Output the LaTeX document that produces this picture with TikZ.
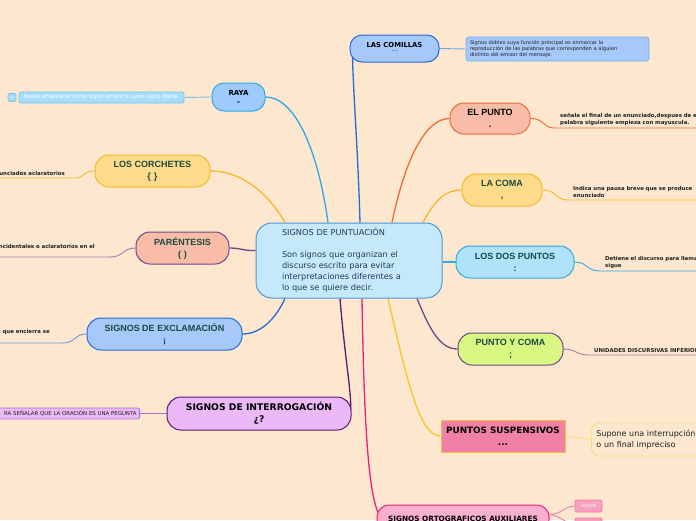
\documentclass[tikz,border=0pt]{standalone}
\usepackage{fontspec}
\setmainfont{DejaVu Sans}
\newfontfamily\arialfont{Liberation Sans}
\usetikzlibrary{calc}

\definecolor{bgpeach}{HTML}{FDE7CF}
\definecolor{cenfill}{HTML}{C5E9FB}
\definecolor{cenline}{HTML}{4A98D8}
\definecolor{centext}{HTML}{203A5C}
\definecolor{dkgreen}{HTML}{1A4A40}
\definecolor{bluefill}{HTML}{A6C8FA}
\definecolor{blueline}{HTML}{2A6AD8}
\definecolor{skyfill}{HTML}{B0E2FC}
\definecolor{skyline}{HTML}{30A8E8}
\definecolor{salmfill}{HTML}{F8BCA8}
\definecolor{salmline}{HTML}{F06A3A}
\definecolor{yelfill}{HTML}{FDDB8A}
\definecolor{yelline}{HTML}{F8B828}
\definecolor{limefill}{HTML}{D8F882}
\definecolor{purline}{HTML}{704888}
\definecolor{pinkfill}{HTML}{F080A8}
\definecolor{goldline}{HTML}{F0C040}
\definecolor{palegold}{HTML}{F8E080}
\definecolor{rosefill}{HTML}{F8B0D0}
\definecolor{roseline}{HTML}{F0207A}
\definecolor{guionfill}{HTML}{F8A0C0}
\definecolor{guionline}{HTML}{F07AA8}
\definecolor{lilfill}{HTML}{ECB8F8}
\definecolor{lilline}{HTML}{5A1878}
\definecolor{lildesc}{HTML}{B070C8}
\definecolor{rayadesc}{HTML}{A8DCFC}
\definecolor{rayaline}{HTML}{78C4F0}
\definecolor{desctext}{HTML}{202020}

\pgfdeclarelayer{back}
\pgfdeclarelayer{links}
\pgfsetlayers{back,links,main}

\begin{document}
\begin{tikzpicture}[x=1pt,y=-1pt,
    mainbox/.style={draw=cenline, fill=cenfill, line width=1pt, rounded corners=16pt,
      text width=134pt, inner xsep=26pt, inner ysep=0pt, minimum height=75pt,
      align=left, text=centext, font=\fontsize{8.2}{11}\selectfont},
    topic/.style={draw, line width=1pt, rounded corners=14pt, align=center,
      inner sep=0pt, minimum height=32pt, text=dkgreen,
      font=\arialfont\bfseries\fontsize{9}{12}\selectfont},
    vtopic/.style={topic, text=black, font=\bfseries\fontsize{8.8}{12}\selectfont},
    rdesc/.style={anchor=south west, align=left, inner xsep=5pt, inner ysep=2pt,
      text width=170pt, text=desctext, font=\bfseries\fontsize{5.4}{7}\selectfont},
    ldesc/.style={anchor=south east, align=right, inner ysep=2pt,
      text=desctext, font=\bfseries\fontsize{5.4}{7}\selectfont},
    link/.style={line width=1.3pt},
    sublink/.style={line width=0.9pt}]

    \useasboundingbox (0,0) rectangle (696,520);
    \begin{pgfonlayer}{back}
    \fill[bgpeach] (0,0) rectangle (696,520);
    \end{pgfonlayer}

    % Central topic
    \node[mainbox] (punt) at (349,260.5) {SIGNOS DE PUNTUACIÓN\\[11pt]
      Son signos que organizan el\\discurso escrito para evitar\\interpretaciones diferentes a\\lo que se quiere decir.};

    % Right side
    \node[vtopic, fill=bluefill, draw=blueline, minimum width=89pt, minimum height=27pt,
      rounded corners=12pt, font=\bfseries\fontsize{6.8}{7}\selectfont] (comillas) at (394.5,48.5)
      {LAS COMILLAS\\{\fontsize{5}{5}\selectfont ´\,´}};
    \node[draw=rayaline!80!blueline, fill=bluefill, line width=0.8pt, rounded corners=3pt,
      minimum width=183pt, minimum height=24pt, inner xsep=4pt, text width=175pt, align=left,
      text=desctext, font=\fontsize{5.1}{6}\selectfont] (comdesc) at (557.5,49)
      {Signos dobles suya función principal es enmarcar la\\reproducción de las palabras que corresponden a alguien\\distinto del emisor del mensaje.};

    \node[topic, fill=salmfill, draw=salmline, minimum width=80pt, minimum height=31pt, text=black] (punto) at (490,118.5) {EL PUNTO\\.};
    \node[rdesc] (pdesc) at (555,128) {señala el final de un enunciado,despues de el\\palabra siguiente empieza con mayuscula.};

    \node[topic, fill=yelfill, draw=yelline, minimum width=80pt] (coma) at (502,190) {LA COMA\\,};
    \node[rdesc] (cdesc) at (568,200) {Indica una pausa breve que se produce\\enunciado};

    \node[topic, fill=skyfill, draw=skyline, minimum width=118pt] (dospuntos) at (515,262) {LOS DOS PUNTOS\\:};
    \node[rdesc] (ddesc) at (600,271) {Detiene el discurso para llamar\\sigue};

    \node[topic, fill=limefill, draw=purline, minimum width=105pt] (pycoma) at (510.5,349) {PUNTO Y COMA\\;};
    \node[rdesc] (ydesc) at (589,355) {UNIDADES DISCURSIVAS INFERIORES};

    \node[vtopic, fill=pinkfill, draw=goldline, rounded corners=0pt, minimum width=124pt] (suspensivos) at (503,436) {PUNTOS SUSPENSIVOS\\...};
    \node[draw=palegold, line width=0.9pt, rounded corners=8pt, anchor=west, minimum height=33pt,
      text width=120pt, inner xsep=5pt, align=left, text=desctext,
      font=\fontsize{8}{11}\selectfont] (sdesc) at (591,439.5)
      {Supone una interrupción\\o un final impreciso};

    \node[vtopic, fill=rosefill, draw=roseline, minimum width=172pt, minimum height=27pt,
      rounded corners=12pt, font=\bfseries\fontsize{7.3}{8}\selectfont] (auxiliares) at (463,518.5)
      {SIGNOS ORTOGRAFICOS AUXILIARES};
    \node[draw=guionline, fill=guionfill, line width=0.8pt, rounded corners=2pt, minimum width=27pt,
      minimum height=12pt, inner sep=0pt, text=white, font=\fontsize{4.5}{5}\selectfont] (guion) at (588.5,506) {GUION};
    \node[draw=guionline, fill=guionfill, line width=0.8pt, rounded corners=2pt, minimum width=27pt,
      minimum height=12pt, inner sep=0pt] (guiondos) at (588.5,524) {};

    % Left side
    \node[vtopic, fill=skyfill!90!blue, draw=skyline, minimum width=53pt, minimum height=28pt,
      rounded corners=12pt, font=\bfseries\fontsize{7}{9}\selectfont] (raya) at (238.5,97) {RAYA\\-};
    \node[draw=rayaline, fill=rayadesc, line width=0.8pt, rounded corners=2pt, minimum width=165pt,
      minimum height=11pt, inner sep=0pt, text=white, font=\fontsize{5.4}{6}\selectfont] (rdescbox) at (101.5,97.5)
      {Puede emplearse como signo simple o como signo doble.};
    \node[draw=rayaline, fill=rayadesc, line width=0.8pt, rounded corners=1.5pt, minimum width=8pt,
      minimum height=8pt, inner sep=0pt, text=white, font=\fontsize{5}{5}\selectfont] (plus) at (12,97.5) {+};

    \node[topic, fill=yelfill, draw=yelline, minimum width=115pt] (corchetes) at (152.5,171) {LOS CORCHETES\\\{\,\,\}};
    \node[ldesc, inner xsep=10pt] (kdesc) at (75,178) {unciados aclaratorios};

    \node[topic, fill=salmfill, draw=purline, minimum width=93pt] (parentesis) at (182.5,248) {PARÉNTESIS\\(\,\,)};
    \node[ldesc, inner xsep=15pt, inner ysep=8pt] (padesc) at (110,257) {ncidentales o aclaratorios en el};

    \node[topic, fill=bluefill, draw=blueline, minimum width=155pt] (exclamacion) at (164.5,334) {SIGNOS DE EXCLAMACIÓN\\¡};
    \node[ldesc, inner xsep=12pt, inner ysep=8pt] (edesc) at (62,343) {a que encierra se};

    \node[vtopic, fill=lilfill, draw=lilline, minimum width=184pt, minimum height=33pt,
      font=\bfseries\fontsize{9.2}{12}\selectfont] (interrogacion) at (259,413.5) {SIGNOS DE INTERROGACIÓN\\¿?};
    \node[draw=lildesc, fill=lilfill, line width=0.8pt, rounded corners=2pt, anchor=east,
      minimum height=11pt, text width=150pt, align=right, inner xsep=3pt, inner ysep=0pt,
      text=desctext, font=\fontsize{5.4}{6}\selectfont] (idesc) at (140,413.5)
      {RA SEÑALAR QUE LA ORACIÓN ES UNA PEGUNTA};

    % Draw connectors
    \begin{pgfonlayer}{links}
    \draw[link, yelline] ($(punt.north)+(-64,0)$) .. controls (275,205) and (250,171) .. (corchetes.east);
    \draw[link, skyline] ($(punt.north)+(-21,0)$) .. controls (318,150) and (295,97) .. (raya.east);
    \draw[link, blueline] ($(punt.north)+(11,0)$) .. controls (358,150) and (353,90) .. ($(comillas.west)+(3,6)$);
    \draw[link, salmline] ($(punt.north)+(43,0)$) .. controls (405,160) and (425,118.5) .. (punto.west);
    \draw[link, yelline] ($(punt.north)+(74,0)$) .. controls (435,200) and (445,190) .. (coma.west);
    \draw[link, skyline] ($(punt.east)+(0,1.5)$) -- (dospuntos.west);
    \draw[link, purline] ($(punt.south)+(68,0)$) .. controls (430,330) and (440,349) .. (pycoma.west);
    \draw[link, yelline!80!yellow] ($(punt.south)+(39,0)$) .. controls (408,385) and (420,436) .. (suspensivos.west);
    \draw[link, roseline] ($(punt.south)+(13,0)$) .. controls (364,420) and (368,495) .. ($(auxiliares.west)+(3,-3)$);
    \draw[link, lilline] ($(punt.south)+(-9,0)$) .. controls (345,360) and (352,395) .. ($(interrogacion.east)+(-1,-3)$);
    \draw[link, blueline] ($(punt.south)+(-64,0)$) .. controls (275,320) and (260,334) .. (exclamacion.east);
    \draw[link, purline] ($(punt.west)+(0,-10)$) .. controls (245,251) and (240,248) .. (parentesis.east);

    \draw[sublink, rayaline] (raya.west) -- (rdescbox.east);
    \draw[sublink, rayaline!70!blueline] (comillas.east) -- (comdesc.west);
    \draw[sublink, salmline] (punto.east) .. controls (545,118.5) and (542,128) .. (pdesc.south west) -- (pdesc.south east);
    \draw[sublink, yelline] (coma.east) .. controls (557,190) and (555,200) .. (cdesc.south west) -- (cdesc.south east);
    \draw[sublink, skyline] (dospuntos.east) .. controls (588,262) and (586,271) .. (ddesc.south west) -- (ddesc.south east);
    \draw[sublink, purline!70] (pycoma.east) .. controls (577,349) and (575,355) .. (ydesc.south west) -- (ydesc.south east);
    \draw[sublink, palegold] (suspensivos.east) -- (sdesc.west);
    \draw[sublink, guionline] ($(auxiliares.east)+(0,-4)$) .. controls (562,514) and (565,506) .. (guion.west);
    \draw[sublink, guionline] ($(auxiliares.east)+(0,-4)$) .. controls (562,516) and (565,524) .. (guiondos.west);
    \draw[sublink, yelline] (corchetes.west) .. controls (82,171) and (85,178) .. (kdesc.south east) -- (kdesc.south west);
    \draw[sublink, purline!70] (parentesis.west) .. controls (122,248) and (124,257) .. (padesc.south east) -- ++(-120,0);
    \draw[sublink, blueline!70] (exclamacion.west) .. controls (74,334) and (76,343) .. (edesc.south east) -- ++(-70,0);
    \draw[sublink, lildesc] (interrogacion.west) -- (idesc.east);
    \end{pgfonlayer}
\end{tikzpicture}
\end{document}
